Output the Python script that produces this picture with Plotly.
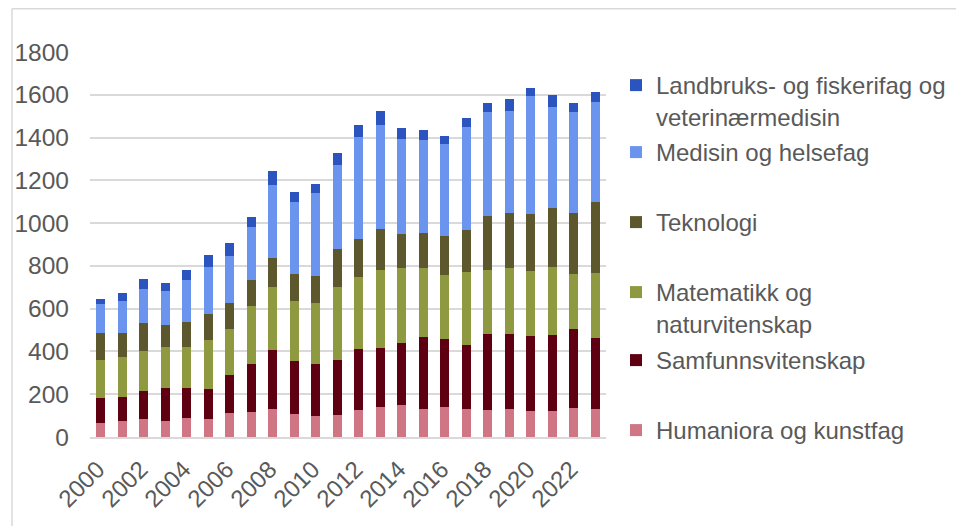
import plotly.graph_objects as go

years = list(range(2000, 2024))

humaniora = [65, 76, 86, 73, 89, 83, 111, 117, 131, 106, 98, 103,
             128, 140, 150, 131, 142, 131, 125, 131, 122, 122, 136, 131]
samfunn = [117, 111, 131, 158, 142, 143, 181, 225, 276, 251, 245, 259,
           285, 278, 290, 337, 317, 300, 355, 349, 349, 355, 368, 334]
matematikk = [178, 186, 184, 192, 189, 228, 215, 270, 293, 278, 284, 340,
              334, 364, 351, 320, 299, 341, 300, 311, 306, 320, 259, 303]
teknologi = [124, 111, 133, 101, 120, 123, 120, 121, 139, 129, 125, 175,
             180, 191, 156, 168, 180, 198, 251, 257, 267, 272, 282, 333]
medisin = [138, 152, 156, 159, 192, 220, 219, 248, 340, 336, 390, 396,
           474, 487, 448, 432, 433, 481, 490, 478, 552, 472, 476, 467]
landbruk = [24, 39, 49, 39, 50, 56, 59, 47, 66, 47, 42, 56,
            59, 64, 51, 49, 38, 40, 42, 56, 37, 59, 42, 44]

series = [
    ("Humaniora og kunstfag", humaniora, "#CF7583"),
    ("Samfunnsvitenskap", samfunn, "#5E0011"),
    ("Matematikk og<br>naturvitenskap", matematikk, "#8F993F"),
    ("Teknologi", teknologi, "#5C572C"),
    ("Medisin og helsefag", medisin, "#6B94EE"),
    ("Landbruks- og fiskerifag og<br>veterinærmedisin", landbruk, "#2B54BF"),
]

legend_names = ["legend6", "legend5", "legend4", "legend3", "legend2", "legend"]
# first-line centre of each legend entry, in page pixels
legend_centres = [428, 358, 290, 220, 150, 83]

# the page body has an 8px margin; the figure is sized to fit the window
OFF = 8
W, H = 964 - OFF, 526 - OFF
ML, MT = 90 - OFF, 52 - OFF
PW, PH = 516, 385
MR = W - ML - PW
MB = H - MT - PH

def px_to_paper_y(py):
    # py in page pixels
    return (H - MB - (py - OFF)) / PH

def px_to_paper_x(px):
    return ((px - OFF) - ML) / PW

FONT = "Liberation Sans, Arial, sans-serif"
font_col = "#595959"
FS = 24

fig = go.Figure()
for (name, vals, col), lg in zip(series, legend_names):
    fig.add_trace(go.Bar(
        x=years, y=vals, name=name, marker_color=col,
        marker_line_width=0, legend=lg,
    ))

layout_legends = {}
for lg, cy in zip(legend_names, legend_centres):
    layout_legends[lg] = dict(
        x=px_to_paper_x(616), xanchor="left",
        y=px_to_paper_y(cy - 20), yanchor="top",
        bgcolor="rgba(0,0,0,0)",
        font=dict(family=FONT, size=FS, color=font_col),
        valign="top", itemclick=False, itemdoubleclick=False,
    )

fig.update_layout(
    width=W, height=H,
    margin=dict(l=ML, r=MR, t=MT, b=MB, autoexpand=False),
    barmode="stack",
    bargap=0.58,
    plot_bgcolor="white",
    paper_bgcolor="white",
    showlegend=True,
    font=dict(family=FONT, size=FS, color=font_col),
    **layout_legends,
)

fig.update_xaxes(
    range=[1999.5, 2023.5],
    tickmode="linear", tick0=2000, dtick=2,
    tickangle=-45,
    showgrid=False,
    showline=True, linecolor="#D9D9D9", linewidth=1.5,
    ticks="",
    ticklabelstandoff=7,
    ticklabelshift=-3,
    tickfont=dict(family=FONT, size=FS, color=font_col),
    fixedrange=True,
)
fig.update_yaxes(
    range=[0, 1800],
    tickmode="linear", tick0=0, dtick=200,
    showgrid=True, gridcolor="#D9D9D9", gridwidth=1.5,
    zeroline=False,
    showline=False,
    ticks="",
    ticklabelstandoff=20,
    tickfont=dict(family=FONT, size=FS + 0.5, color=font_col),
    fixedrange=True,
)

# outer chart frame (left and top edges)
frame_left = px_to_paper_x(12)
frame_top = px_to_paper_y(8.8)
fig.add_shape(type="line", xref="paper", yref="paper",
              x0=frame_left, x1=frame_left, y0=frame_top, y1=px_to_paper_y(540),
              line=dict(color="#D9D9D9", width=1.5))
fig.add_shape(type="line", xref="paper", yref="paper",
              x0=frame_left, x1=px_to_paper_x(980), y0=frame_top, y1=frame_top,
              line=dict(color="#D9D9D9", width=1.5))

fig.write_html("out.html", config={"displayModeBar": False})
